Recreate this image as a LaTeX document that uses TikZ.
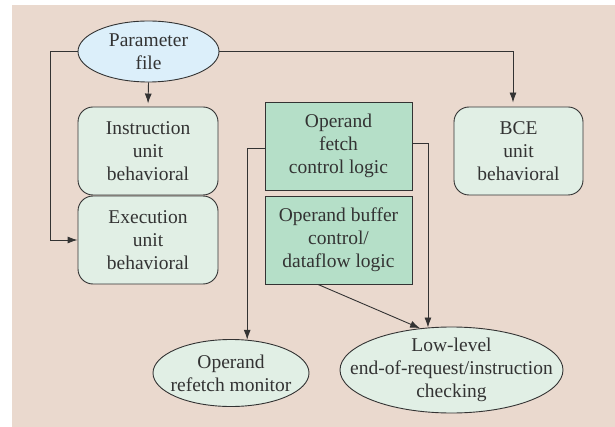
\documentclass[tikz,border=0pt]{standalone}
\usepackage{fontspec}
\setmainfont{Liberation Serif}
\usetikzlibrary{shapes.geometric,arrows.meta}
\definecolor{bgbeige}{HTML}{EAD9CE}
\definecolor{pblue}{HTML}{DCEFFA}
\definecolor{lgreen}{HTML}{E1EFE5}
\definecolor{dteal}{HTML}{B5DFC8}
\definecolor{lineg}{HTML}{333333}
\tikzset{
  every node/.style={font=\fontsize{19.5}{23}\selectfont, text=lineg, align=center, inner sep=0pt},
  ellnode/.style={ellipse, draw=lineg, line width=0.9pt},
  roundbox/.style={rectangle, rounded corners=15pt, draw=lineg, fill=lgreen, line width=0.9pt},
  tealbox/.style={rectangle, draw=lineg, fill=dteal, line width=0.9pt},
  conn/.style={draw=lineg, line width=0.9pt, -{Latex[length=10pt,width=7pt]}}
}
\begin{document}
\begin{tikzpicture}[x=1pt,y=-1pt]
\useasboundingbox (0,0) rectangle (615,427);
\fill[white] (0,0) rectangle (615,427);
\fill[bgbeige] (12,5) rectangle (615,427);

\node[ellnode, fill=pblue, minimum width=141pt, minimum height=61pt] (param) at (148.5,51.5) {};
\node (paramtext) at (param.center) {Parameter\\file};
\node[roundbox, minimum width=140pt, minimum height=88pt] (instr) at (148,151) {Instruction\\unit\\behavioral};
\node[roundbox, minimum width=140pt, minimum height=88pt] (exec) at (148,240) {Execution\\unit\\behavioral};
\node[roundbox, minimum width=129pt, minimum height=88pt] (bce) at (518.5,151) {BCE\\unit\\behavioral};
\node[tealbox, minimum width=147pt, minimum height=88pt] (fetch) at (338.5,146) {Operand\\fetch\\control logic};
\node[tealbox, minimum width=147pt, minimum height=88pt] (buffer) at (338.5,240) {Operand buffer\\control/\\dataflow logic};
\node[ellnode, fill=lgreen, minimum width=156pt, minimum height=67pt] (refetch) at (231,373) {};
\node (refetchtext) at (refetch.center) {Operand\\refetch monitor};
\node[ellnode, fill=lgreen, minimum width=223pt, minimum height=86pt] (low) at (451.5,370) {};
\node (lowtext) at (low.center) {Low-level\\end-of-request/instruction\\checking};

\draw[conn] (param.west) -- ++(-27.5,0) |- (exec.west);
\draw[conn, shorten >=3pt] (param.south) -- (instr.north);
\draw[conn, shorten >=4pt] (param.east) -| ([xshift=-5.5pt]bce.north);
\draw[conn] ([yshift=-2pt]fetch.west) -| (refetch.64);
\draw[conn] ([yshift=3pt]fetch.east) -| (low.119);
\draw[conn] ([xshift=-20.5pt]buffer.south) -- (low.127);
\end{tikzpicture}
\end{document}
